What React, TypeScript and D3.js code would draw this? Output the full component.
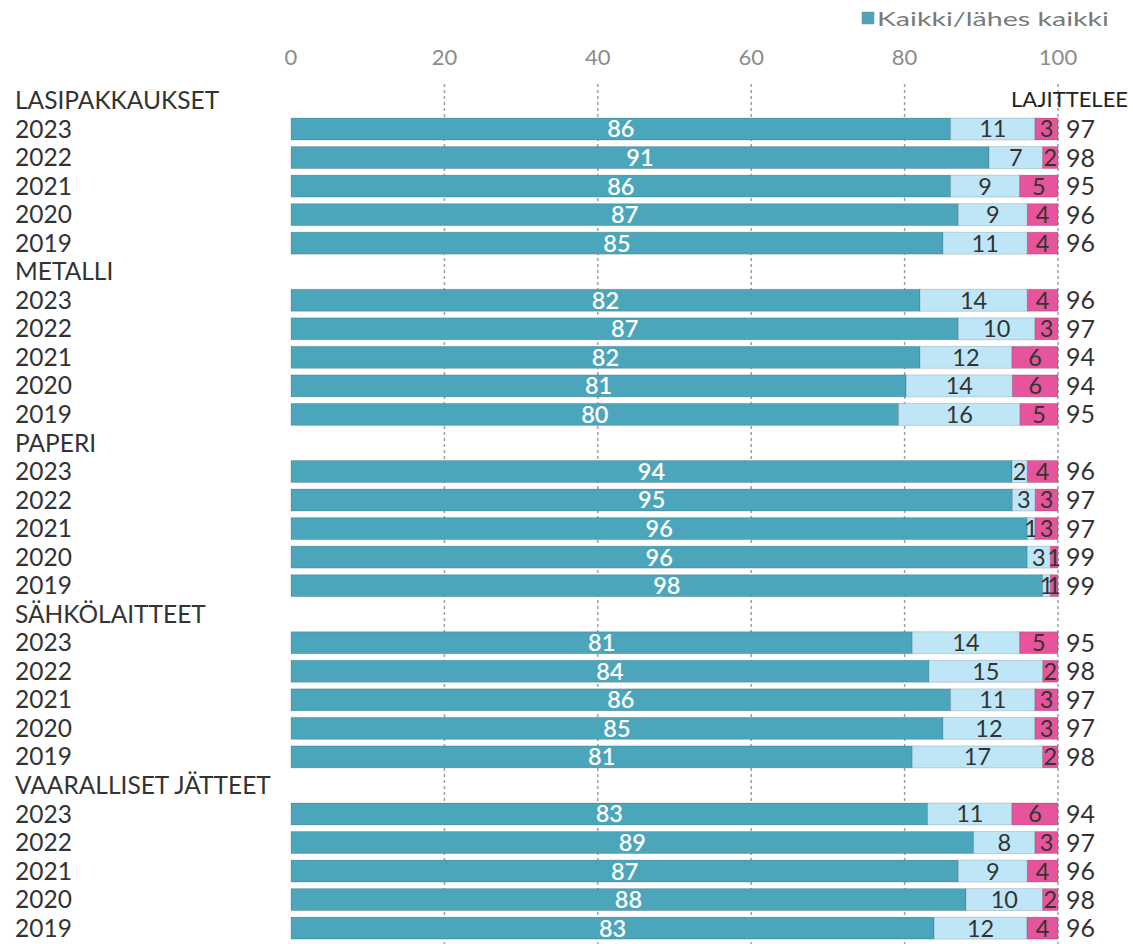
import * as d3 from 'd3';

const groups = ['LASIPAKKAUKSET', 'METALLI', 'PAPERI', 'SÄHKÖLAITTEET', 'VAARALLISET JÄTTEET'];
const years = ['2023', '2022', '2021', '2020', '2019'];
const seriesNames = ['Kaikki/lähes kaikki', 'Suurin osa', 'Osa'];
const allOrAlmost = [
  [86, 91, 86, 87, 85],
  [82, 87, 82, 81, 80],
  [94, 95, 96, 96, 98],
  [81, 84, 86, 85, 81],
  [83, 89, 87, 88, 83],
];
const mostOf = [
  [11, 7, 9, 9, 11],
  [14, 10, 12, 14, 16],
  [2, 3, 1, 3, 1],
  [14, 15, 11, 12, 17],
  [11, 8, 9, 10, 12],
];
const someOf = [
  [3, 2, 5, 4, 4],
  [4, 3, 6, 6, 5],
  [4, 3, 3, 1, 1],
  [5, 2, 3, 3, 2],
  [6, 3, 4, 2, 4],
];
const totals = [
  [97, 98, 95, 96, 96],
  [96, 97, 94, 94, 95],
  [96, 97, 97, 99, 99],
  [95, 98, 97, 97, 98],
  [94, 97, 96, 98, 96],
];
const xTicks = [0, 20, 40, 60, 80, 100];

const colors = ['#4ba6bb', '#bfe6f7', '#e6559b'];
const font = 'Lato, "Open Sans", sans-serif';

interface Row {
  id: string;
  label: string;
  header: boolean;
  values?: number[];
  total?: number;
}

const rows: Row[] = [];
groups.forEach((g, gi) => {
  rows.push({ id: `h-${gi}`, label: g, header: true });
  years.forEach((y, yi) => {
    rows.push({
      id: `${gi}-${yi}`,
      label: y,
      header: false,
      values: [allOrAlmost[gi][yi], mostOf[gi][yi], someOf[gi][yi]],
      total: totals[gi][yi],
    });
  });
});

const width = 1133;
const height = 944;

const App = () => {
  const x = d3.scaleLinear().domain([0, 100]).range([291, 1058]);
  const y = d3.scaleBand<string>().domain(rows.map(r => r.id)).range([86.2, 942.4]);
  const barH = y.bandwidth() * 0.77;

  return (
    <svg width={width} height={height} style={{ position: 'absolute', left: 0, top: 0, background: '#fff' }}
      fontFamily={font}>
      {/* legend */}
      <rect x={862} y={12} width={12} height={12} fill={colors[0]} stroke="#888" strokeWidth={0.5} />
      <text x={877} y={19} dy="0.35em" fontSize={20} fill="#7a7a7a" textLength={232}
        lengthAdjust="spacingAndGlyphs">{seriesNames[0]}</text>

      {/* x ticks */}
      {xTicks.map(t => (
        <text key={t} x={x(t)} y={57} dy="0.35em" textAnchor="middle" fontSize={22} fill="#8c8c8c">{t}</text>
      ))}
      {/* grid */}
      {xTicks.filter(t => t > 0).map(t => (
        <line key={t} x1={x(t)} x2={x(t)} y1={84} y2={944} stroke="#a0a0a0" strokeWidth={1.5} strokeDasharray="3,3" />
      ))}

      <text x={1011} y={99} dy="0.35em" fontSize={22} fill="#222">LAJITTELEE</text>

      {rows.map(r => {
        const cy = (y(r.id) ?? 0) + y.bandwidth() / 2;
        if (r.header || !r.values) {
          return (
            <text key={r.id} x={15} y={cy} dy="0.35em" fontSize={24.5} fill="#333">{r.label}</text>
          );
        }
        // shares are rounded; normalise so the stack ends at 100
        const sum = d3.sum(r.values);
        let acc = 0;
        return (
          <g key={r.id}>
            <text x={15} y={cy} dy="0.35em" fontSize={24.5} fill="#333">{r.label}</text>
            {r.values.map((v, i) => {
              const x0 = x(acc);
              acc += (v / sum) * 100;
              const x1 = x(acc);
              return (
                <g key={i}>
                  <rect x={x0} y={cy - barH / 2} width={x1 - x0} height={barH} fill={colors[i]}
                    stroke="rgba(0,0,0,0.15)" strokeWidth={1} />
                  <text x={(x0 + x1) / 2} y={cy} dy="0.36em" textAnchor="middle" fontSize={23.5}
                    fontWeight={i === 0 ? 600 : 400} fill={i === 0 ? '#fff' : '#333'}>{v}</text>
                </g>
              );
            })}
            <text x={1066} y={cy} dy="0.36em" fontSize={25} fill="#333">{r.total}</text>
          </g>
        );
      })}
    </svg>
  );
};

export default App;
